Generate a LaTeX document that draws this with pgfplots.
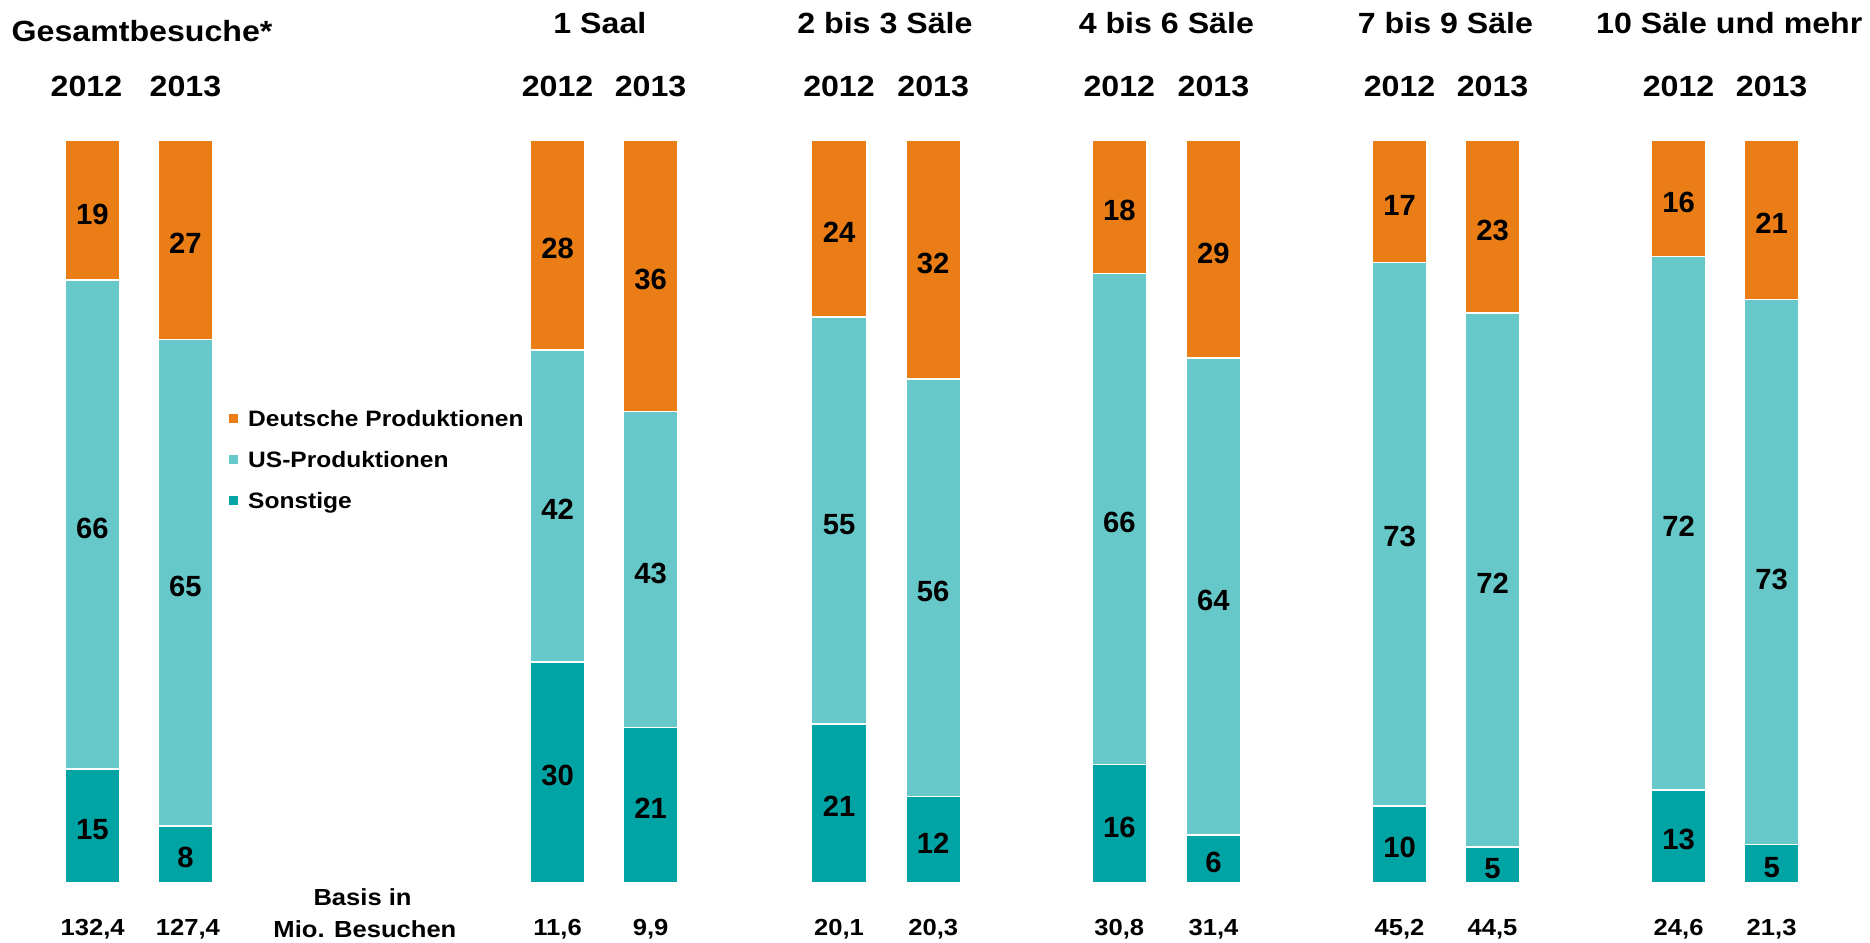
\documentclass[border=0pt]{standalone}
\usepackage{fontspec}
\setmainfont{Liberation Sans}[FakeStretch=1.1]
\newfontfamily\numfont{Liberation Sans}
\usepackage{pgfplots}
\usepackage{pgfplotstable}
\pgfplotsset{compat=1.18}
\definecolor{cDE}{RGB}{234,125,22}
\definecolor{cUS}{RGB}{102,200,200}
\definecolor{cSO}{RGB}{0,164,164}

% x position (layout), Sonstige, US-Produktionen, Deutsche Produktionen (shares in %)
\pgfplotstableread{
x      S     U     D
77.5   15.3  65.9  18.8
155.5  7.6   65.6  26.8
467.5  29.7  42.1  28.2
545.5  20.9  42.6  36.5
703.5  21.4  54.8  23.8
782.5  11.6  56.3  32.1
938.5  15.9  66.2  17.9
1017.5 6.4   64.3  29.3
1173.5 10.3  73.3  16.4
1251.5 4.8   72.0  23.2
1407.5 12.5  71.9  15.6
1485.5 5.1   73.5  21.4
}\shares

% label positions (segment middles) and printed values
\pgfplotstableread{
x      y      l
77.5   7.65   15
77.5   48.25  66
77.5   90.6   19
155.5  3.8    8
155.5  40.4   65
155.5  86.6   27
467.5  14.85  30
467.5  50.75  42
467.5  85.9   28
545.5  10.45  21
545.5  42.2   43
545.5  81.75  36
703.5  10.7   21
703.5  48.8   55
703.5  88.1   24
782.5  5.8    12
782.5  39.75  56
782.5  83.95  32
938.5  7.95   16
938.5  49.0   66
938.5  91.05  18
1017.5 3.2    6
1017.5 38.55  64
1017.5 85.35  29
1173.5 5.15   10
1173.5 47.1   73
1173.5 91.8   17
1251.5 2.4    5
1251.5 40.8   72
1251.5 88.4   23
1407.5 6.25   13
1407.5 48.45  72
1407.5 92.2   16
1485.5 2.55   5
1485.5 41.35  73
1485.5 89.3   21
}\labels

\tikzset{tt/.style={font=\fontsize{24.5}{26}\selectfont\bfseries, inner sep=0pt}}
\tikzset{bb/.style={font=\fontsize{19.5}{22}\selectfont\bfseries, inner sep=0pt}}

\begin{document}
\begin{tikzpicture}
\useasboundingbox (0,0) rectangle (1568pt,790pt);
\begin{axis}[
  at={(0pt,50pt)}, anchor=south west,
  scale only axis, width=1568pt, height=622pt,
  xmin=0, xmax=1568, ymin=0, ymax=100,
  hide axis, clip=false,
  ybar stacked, bar width=46pt,
  reverse legend,
  legend image code/.code={\fill[#1] (0pt,2.4pt) rectangle (8.8pt,11.2pt);},
  legend style={
    at={(axis cs:191,63.7)}, anchor=north west, draw=none, fill=none,
    inner sep=0pt, outer sep=0pt,
    font=\fontsize{18.7}{22}\selectfont\bfseries,
    nodes={inner sep=0pt, text height=14pt, text depth=4pt, anchor=base west},
    row sep=16.5pt, column sep=7pt,
  },
]
\addplot[fill=cSO, draw=white, line width=1.3pt] table[x=x, y=S] {\shares};
\addlegendentry{Sonstige}
\addplot[fill=cUS, draw=white, line width=1.3pt] table[x=x, y=U] {\shares};
\addlegendentry{US-Produktionen}
\addplot[fill=cDE, draw=white, line width=1.3pt] table[x=x, y=D] {\shares};
\addlegendentry{Deutsche Produktionen}
\end{axis}

\begin{axis}[
  at={(0pt,50pt)}, anchor=south west,
  scale only axis, width=1568pt, height=622pt,
  xmin=0, xmax=1568, ymin=0, ymax=100,
  hide axis, clip=false,
]
\addplot[only marks, mark=none, nodes near coords, point meta=explicit symbolic,
  every node near coord/.append style={font=\numfont\bfseries\fontsize{24.5}{24}\selectfont, anchor=center, inner sep=0pt, yshift=-3pt}]
  table[x=x, y=y, meta=l] {\labels};

% titles
\node[tt, anchor=west] at (axis cs:9.6,114.8) {Gesamtbesuche*};
\node[tt] at (axis cs:503,115.9) {1 Saal};
\node[tt] at (axis cs:742,115.9) {2 bis 3 Säle};
\node[tt] at (axis cs:978,115.9) {4 bis 6 Säle};
\node[tt] at (axis cs:1212,115.9) {7 bis 9 Säle};
\node[tt] at (axis cs:1450,115.9) {10 Säle und mehr};
% years
\node[tt] at (axis cs:72.5,107.3) {2012};
\node[tt] at (axis cs:155.5,107.3) {2013};
\node[tt] at (axis cs:467.5,107.3) {2012};
\node[tt] at (axis cs:545.5,107.3) {2013};
\node[tt] at (axis cs:703.5,107.3) {2012};
\node[tt] at (axis cs:782.5,107.3) {2013};
\node[tt] at (axis cs:938.5,107.3) {2012};
\node[tt] at (axis cs:1017.5,107.3) {2013};
\node[tt] at (axis cs:1173.5,107.3) {2012};
\node[tt] at (axis cs:1251.5,107.3) {2013};
\node[tt] at (axis cs:1407.5,107.3) {2012};
\node[tt] at (axis cs:1485.5,107.3) {2013};
% basis
\node[bb] at (axis cs:304,-1.93) {Basis in};
\node[bb] at (axis cs:306,-6.27) {Mio. Besuchen};
\node[bb] at (axis cs:77.7,-6.27) {132,4};
\node[bb] at (axis cs:157.5,-6.27) {127,4};
\node[bb] at (axis cs:467.5,-6.27) {11,6};
\node[bb] at (axis cs:545.5,-6.27) {9,9};
\node[bb] at (axis cs:703.5,-6.27) {20,1};
\node[bb] at (axis cs:782.5,-6.27) {20,3};
\node[bb] at (axis cs:938.5,-6.27) {30,8};
\node[bb] at (axis cs:1017.5,-6.27) {31,4};
\node[bb] at (axis cs:1173.5,-6.27) {45,2};
\node[bb] at (axis cs:1251.5,-6.27) {44,5};
\node[bb] at (axis cs:1407.5,-6.27) {24,6};
\node[bb] at (axis cs:1485.5,-6.27) {21,3};
\end{axis}
\end{tikzpicture}
\end{document}
